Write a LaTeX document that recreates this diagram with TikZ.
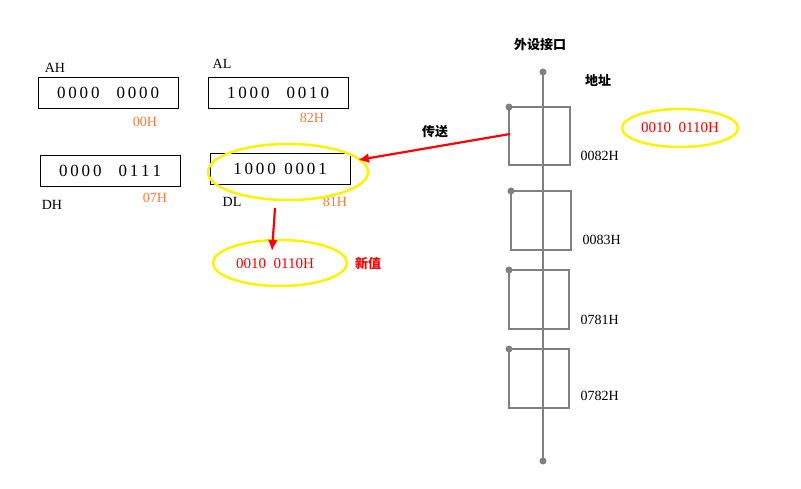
\documentclass[tikz,border=0pt]{standalone}
\usepackage{fontspec}
\setmainfont{Liberation Serif}
\newfontfamily\cjk{Noto Sans CJK SC}
\usetikzlibrary{arrows.meta}
\begin{document}
\begin{tikzpicture}[x=1pt,y=-1pt,
  reg/.style={draw,line width=0.8pt,minimum width=140pt,minimum height=31pt,inner sep=0pt,font=\fontsize{17}{17}\selectfont},
  lab/.style={font=\fontsize{14}{14}\selectfont},
  hex/.style={font=\fontsize{14}{14}\selectfont,text={rgb,255:red,255;green,120;blue,60}},
  cell/.style={draw={rgb,255:red,128;green,128;blue,128},line width=2pt},
  yel/.style={draw=yellow,line width=2.5pt},
  red/.style={text=red,font=\fontsize{15}{15}\selectfont},
  arr/.style={draw=red,line width=2.2pt,-{Latex[length=11pt,width=10pt]}},
  cn/.style={font=\cjk\bfseries\fontsize{13}{13}\selectfont},
  dot/.style={circle,fill={rgb,255:red,128;green,128;blue,128},inner sep=0pt,minimum size=7pt}]
\useasboundingbox (0,0) rectangle (801,489);
\node[reg] (ah) at (108,92.5) {0\,0\,0\,0\quad 0\,0\,0\,0};
\node[reg] (al) at (278,92.5) {1\,0\,0\,0\quad 0\,0\,1\,0};
\node[reg] (dh) at (110,171) {0\,0\,0\,0\quad 0\,1\,1\,1};
\node[reg] (dl) at (280,169) {1\,0\,0\,0\ \ 0\,0\,0\,1};
\node[lab] (lah) at (55,68) {AH};
\node[lab] (lal) at (222,64) {AL};
\node[lab] (ldh) at (52,205) {DH};
\node[lab] (ldl) at (232,202) {DL};
\node[hex] (h1) at (145,122) {00H};
\node[hex] (h2) at (312,118) {82H};
\node[hex] (h3) at (155,198) {07H};
\node[hex] (h4) at (335,202) {81H};
\draw[yel] (288,172) ellipse [x radius=80, y radius=28];
\draw[yel] (280,263) ellipse [x radius=67, y radius=23];
\draw[yel] (680,128) ellipse [x radius=58, y radius=19];
\node[red] (nv) at (275,264) {0010\ \ 0110H};
\node[red] (rv) at (680,128) {0010\ \ 0110H};
\node[cn,text=red] (xz) at (368,264) {新值};
\coordinate (bt) at (543,72); \coordinate (bb) at (543,461);
\draw[cell] (bt) -- (bb);
\node[dot] at (bt) {}; \node[dot] at (bb) {};
\draw[cell] (509,107) rectangle (570,165); \node[dot] at (509,107) {};
\draw[cell] (511,191) rectangle (571,250); \node[dot] at (511,191) {};
\draw[cell] (509,270) rectangle (569,329); \node[dot] at (509,270) {};
\draw[cell] (509,349) rectangle (569,408); \node[dot] at (509,349) {};
\node[lab,anchor=west] (a1) at (577,156) {0082H};
\node[lab,anchor=west] (a2) at (579,240) {0083H};
\node[lab,anchor=west] (a3) at (577,320) {0781H};
\node[lab,anchor=west] (a4) at (577,396) {0782H};
\node[cn] (wj) at (540,45) {外设接口};
\node[cn] (dz) at (598,80) {地址};
\node[cn] (cs) at (435,132) {传送};
\coordinate (src) at (510,134);
\draw[arr] (src) -- (358,160);
\draw[arr] (275,208) -- (272,251);
\end{tikzpicture}
\end{document}
